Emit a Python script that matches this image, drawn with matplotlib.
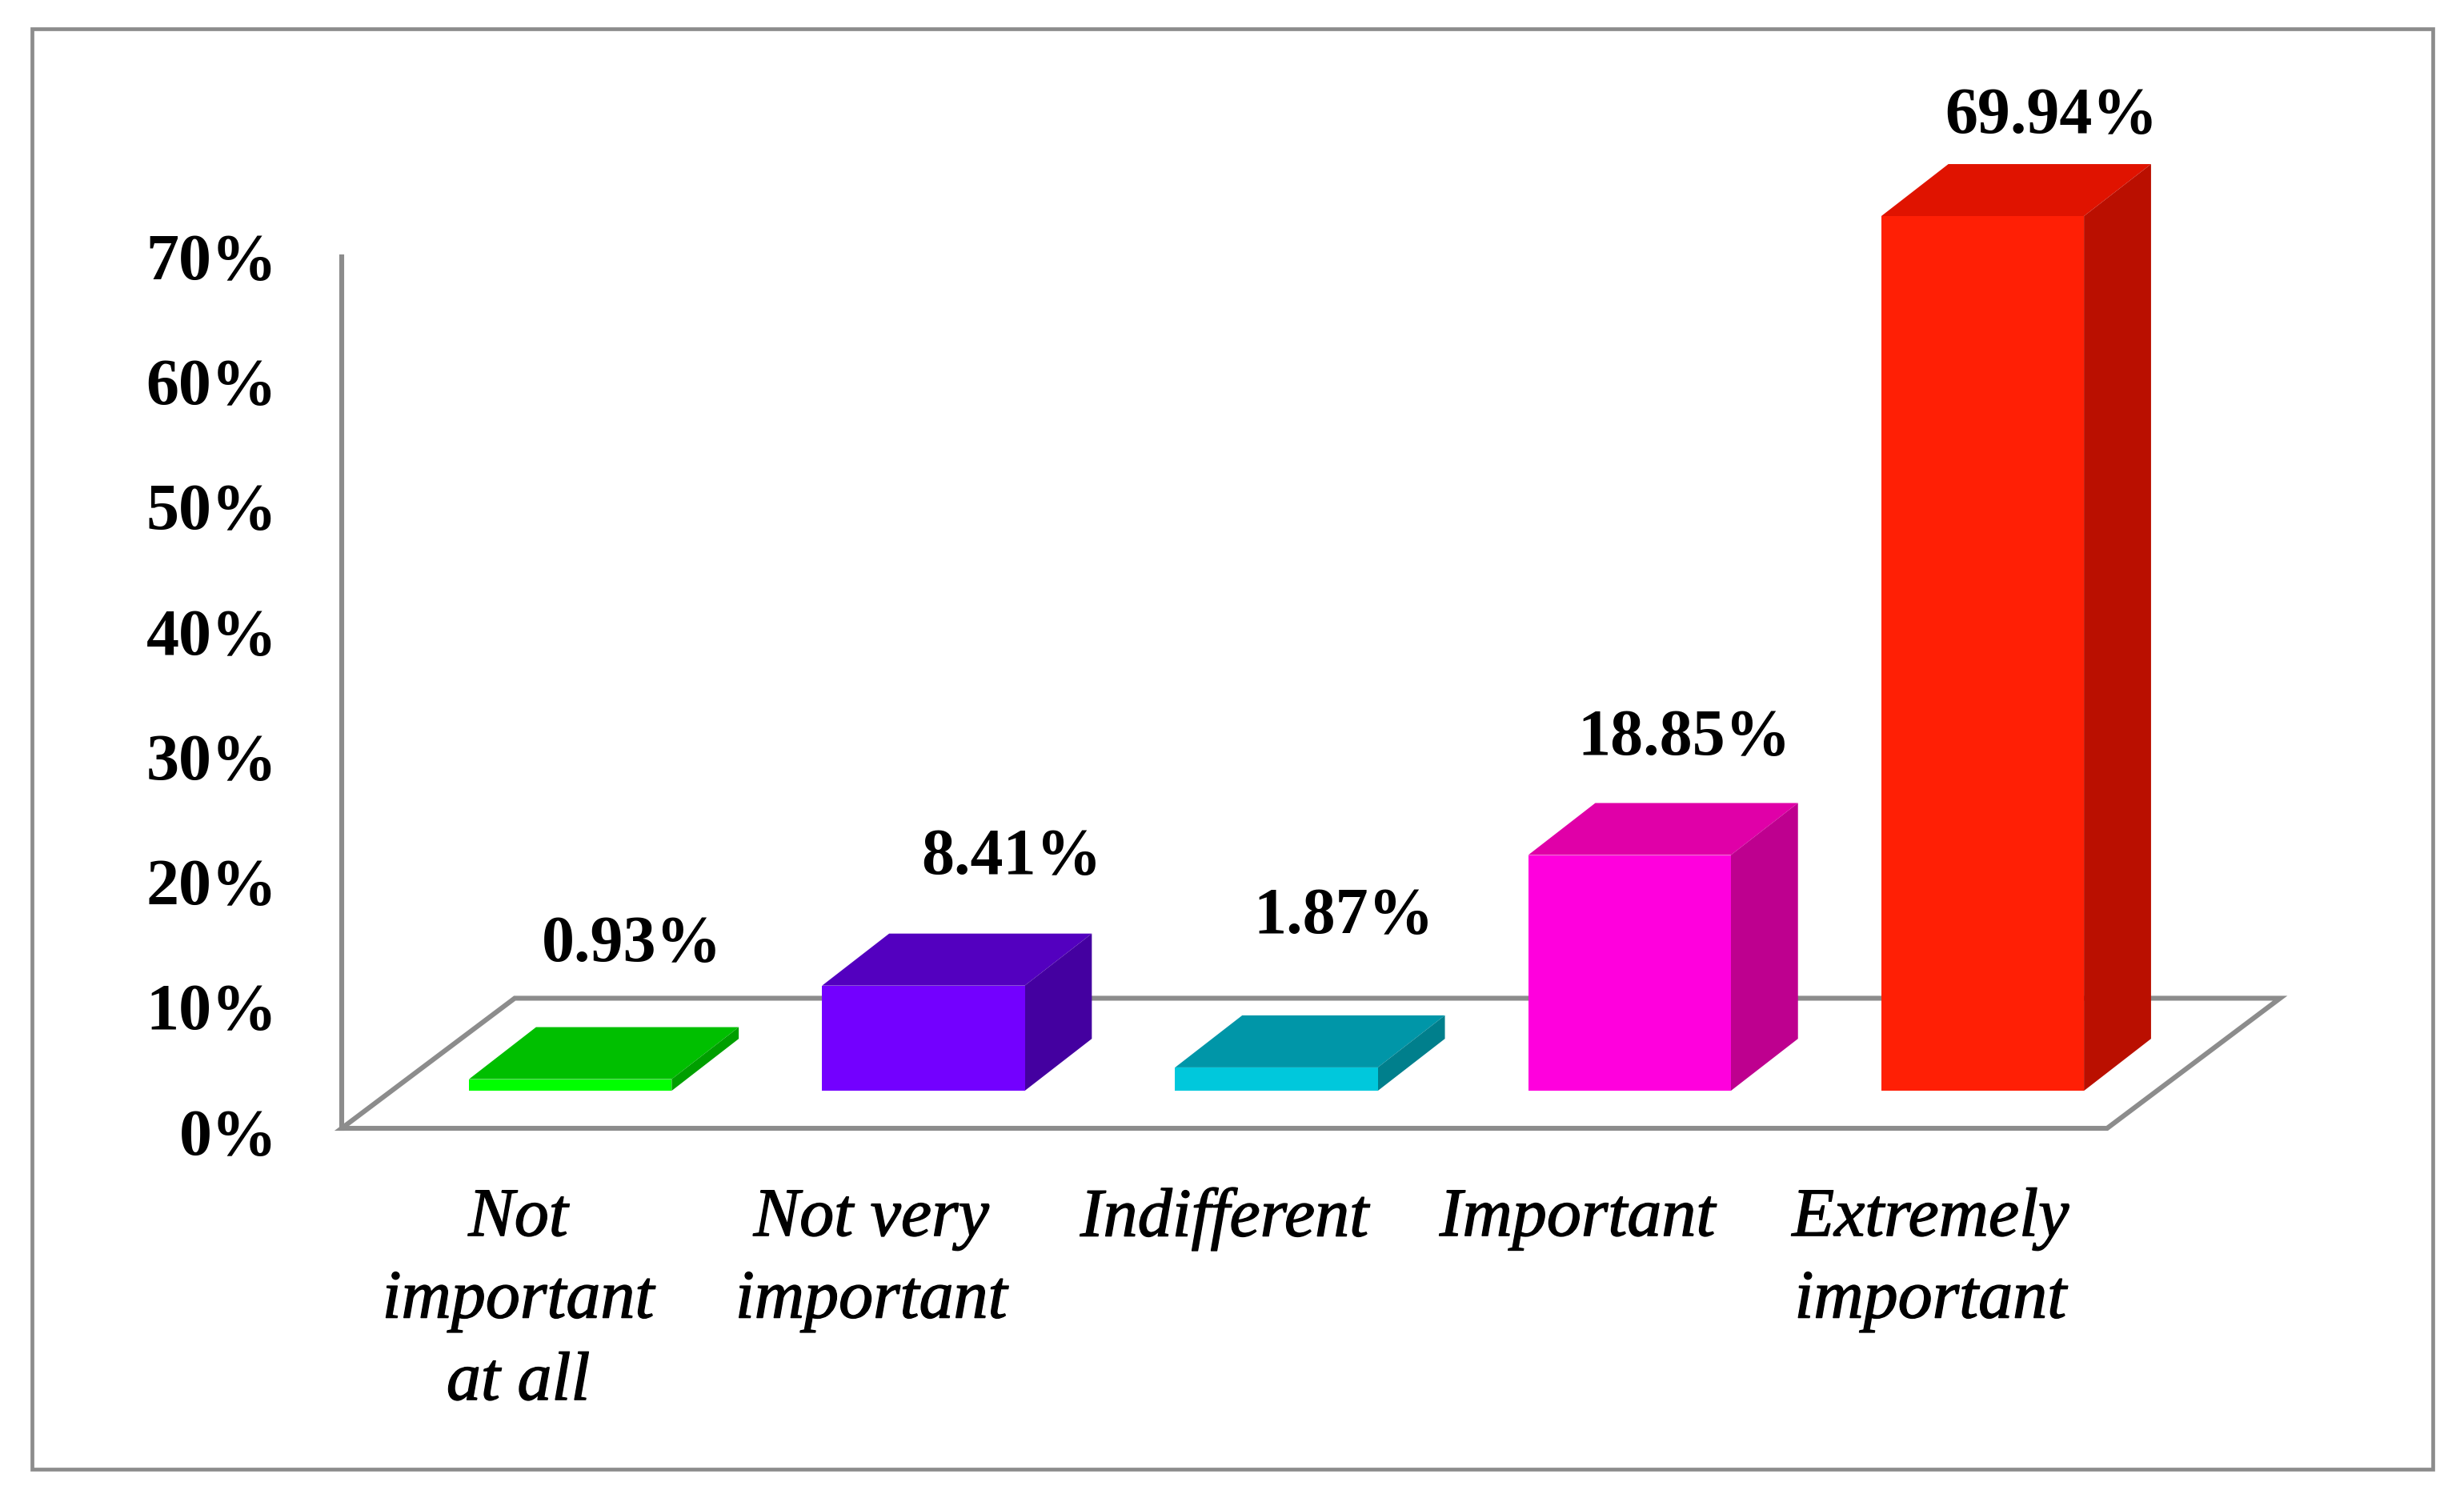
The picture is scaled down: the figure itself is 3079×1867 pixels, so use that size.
import matplotlib
matplotlib.use("Agg")
import matplotlib.pyplot as plt
import matplotlib.patheffects as pe
from matplotlib.patches import Polygon, Rectangle
from matplotlib.transforms import ScaledTranslation

categories = ["Not\nimportant\nat all", "Not very\nimportant", "Indifferent", "Important", "Extremely\nimportant"]
values = [0.93, 8.41, 1.87, 18.85, 69.94]
value_labels = ["0.93%", "8.41%", "1.87%", "18.85%", "69.94%"]
y_ticks = [0, 10, 20, 30, 40, 50, 60, 70]
y_tick_labels = ["0%", "10%", "20%", "30%", "40%", "50%", "60%", "70%"]

front_colors = ["#00ff00", "#7300ff", "#00c8dc", "#ff00dd", "#ff1f05"]
top_colors = ["#00bf00", "#5300bf", "#0096a8", "#e000a8", "#e01300"]
side_colors = ["#009f00", "#4400a0", "#007f8c", "#be008f", "#ba0f00"]

W, H = 3079, 1867
GRAY = "#8c8c8c"
SERIF = "Liberation Serif"

# layout, in axis units (categories / percent)
bar_w = 0.574
bar_shift = 0.1475
base = 3.0
depth_x, depth_y = 0.19, 4.16
floor_x, floor_y = 0.49, 10.4
# label offsets from the front-top-centre of each bar, in pixels
label_dx = [77, 110, 84, 68, 86]
label_dy = [167, 159, 187, 145, 124]

fig = plt.figure(figsize=(W / 100, H / 100), dpi=100, facecolor="white")
fig.add_artist(Rectangle((40 / W, 1 - 1836 / H), (3040 - 40) / W, (1836 - 36) / H,
                         transform=fig.transFigure, fill=False, edgecolor=GRAY, linewidth=3.4))

ax = fig.add_axes([427 / W, 1 - 1410 / H, (2633 - 427) / W, (1410 - 316) / H])
ax.set_xlim(0, 5)
ax.set_ylim(0, 70)
ax.patch.set_alpha(0)
for s in ["top", "right", "bottom"]:
    ax.spines[s].set_visible(False)
ax.spines["left"].set_color(GRAY)
ax.spines["left"].set_linewidth(4.4)
ax.spines["left"].set_bounds(0, 69.7)

ax.add_patch(Polygon([(0, 0), (5, 0), (5 + floor_x, floor_y), (floor_x, floor_y)],
                     closed=True, fill=False, edgecolor=GRAY, linewidth=4.4,
                     clip_on=False, joinstyle="miter", zorder=1))

for i, v in enumerate(values):
    x0 = i + 0.5 + bar_shift - bar_w / 2
    x1 = x0 + bar_w
    y0, y1 = base, base + v
    ax.add_patch(Polygon([(x0, y1), (x1, y1), (x1 + depth_x, y1 + depth_y), (x0 + depth_x, y1 + depth_y)],
                         closed=True, facecolor=top_colors[i], edgecolor="none", clip_on=False, zorder=3))
    ax.add_patch(Polygon([(x1, y0), (x1 + depth_x, y0 + depth_y), (x1 + depth_x, y1 + depth_y), (x1, y1)],
                         closed=True, facecolor=side_colors[i], edgecolor="none", clip_on=False, zorder=3))
    ax.add_patch(Rectangle((x0, y0), bar_w, v, facecolor=front_colors[i], edgecolor="none",
                           clip_on=False, zorder=4))
    ax.annotate(value_labels[i], xy=((x0 + x1) / 2, y1), xytext=(label_dx[i] * 0.72, label_dy[i] * 0.72),
                textcoords="offset points", ha="center", va="center", family=SERIF,
                fontweight="bold", fontsize=59, color="black", annotation_clip=False, zorder=5)

ax.set_yticks(y_ticks)
ax.set_yticklabels(y_tick_labels, family=SERIF, fontweight="bold", fontsize=59)
ax.tick_params(axis="y", length=0, pad=58)
down = ScaledTranslation(0, -3 / 72, fig.dpi_scale_trans)
for t in ax.get_yticklabels():
    t.set_transform(t.get_transform() + down)

ax.set_xticks([i + 0.5 for i in range(len(categories))])
ax.set_xticklabels(categories, family=SERIF, style="italic", fontsize=62, linespacing=1.38)
ax.tick_params(axis="x", length=0, pad=53)
for t in ax.get_xticklabels():
    t.set_path_effects([pe.withStroke(linewidth=1.0, foreground="black")])

fig.savefig("out.png", dpi=100, facecolor="white")
